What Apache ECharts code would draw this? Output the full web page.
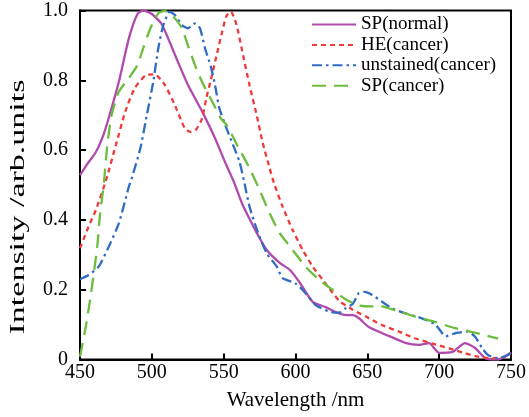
<!DOCTYPE html>
<html><head><meta charset="utf-8">
<script src="https://cdn.jsdelivr.net/npm/echarts@6/dist/echarts.min.js"></script>
<style>html,body{margin:0;padding:0;background:#fff;}#c{width:529px;height:417px;}</style>
</head><body><div id="c"></div>
<script>
const seriesNames = ['SP(normal)', 'HE(cancer)', 'unstained(cancer)', 'SP(cancer)'];
const xTicks = [450, 500, 550, 600, 650, 700, 750];
const yTicks = [0, 0.2, 0.4, 0.6, 0.8, 1.0];
const xAxisName = 'Wavelength /nm';
const yAxisName = 'Intensity /arb.units';

const spNormal = [[450,0.528],[455,0.56],[461,0.594],[466,0.64],[470,0.692],[477,0.795],[484,0.92],[490,0.99],[494,1.0],[500,0.99],[507,0.96],[516,0.874],[525,0.788],[535,0.711],[544,0.634],[551,0.565],[557,0.51],[563,0.445],[570,0.387],[575,0.348],[580,0.314],[589,0.277],[596,0.257],[603,0.22],[612,0.165],[621,0.15],[628,0.136],[635,0.127],[640,0.127],[644,0.119],[651,0.093],[660,0.076],[667,0.064],[677,0.047],[686,0.042],[693,0.047],[700,0.019],[709,0.021],[718,0.047],[725,0.033],[732,0.004],[741,0],[750,0.02]];
const heCancer = [[450,0.319],[456,0.381],[461,0.428],[468,0.512],[475,0.615],[481.5,0.71],[488,0.777],[496,0.815],[502,0.817],[509,0.787],[516,0.729],[523,0.662],[527,0.652],[531,0.66],[535,0.691],[538,0.75],[541,0.8],[545,0.87],[549,0.94],[552,0.985],[555,0.997],[559,0.958],[563,0.882],[568,0.786],[573,0.70],[577,0.624],[582,0.548],[585,0.506],[591,0.438],[598,0.371],[605,0.314],[612,0.266],[619,0.228],[626,0.19],[631,0.166],[640,0.142],[649,0.123],[660,0.099],[672,0.08],[683,0.061],[695,0.046],[707,0.032],[718,0.018],[727,0.008],[737,0.003],[746,0.008],[750,0.015]];
const unstainedCancer = [[450,0.23],[456,0.242],[463,0.266],[470,0.323],[477,0.39],[484,0.495],[486,0.519],[492,0.605],[496.5,0.70],[501,0.796],[504.5,0.892],[508,0.958],[512.5,0.997],[516,0.987],[521,0.958],[525,0.949],[530,0.963],[533.5,0.949],[537,0.892],[541,0.84],[544,0.786],[547,0.72],[552,0.662],[556.5,0.615],[561,0.567],[564.5,0.505],[568,0.438],[574,0.362],[580,0.304],[587,0.266],[591,0.233],[600,0.218],[607,0.19],[614,0.156],[623.5,0.137],[630,0.134],[635,0.147],[640,0.16],[644,0.19],[648,0.194],[653.5,0.185],[660,0.166],[667,0.147],[676.5,0.132],[688,0.118],[697.5,0.1],[704.5,0.067],[712,0.076],[720,0.08],[725,0.065],[730,0.032],[734,0.013],[741,0.003],[748,0.013],[750,0.02]];
const spCancer = [[450,0.008],[454,0.094],[457,0.17],[459.6,0.247],[462,0.323],[464,0.419],[466.5,0.5],[469,0.615],[472,0.70],[477,0.767],[484,0.806],[490,0.844],[494,0.892],[499,0.949],[504.5,0.992],[509,0.999],[515,0.982],[521,0.949],[525,0.901],[530,0.844],[535,0.795],[542,0.739],[548,0.691],[552,0.672],[560,0.61],[568,0.548],[574,0.495],[582,0.419],[589,0.362],[598,0.314],[607,0.266],[616.5,0.228],[626,0.199],[634,0.175],[644,0.155],[653,0.152],[658,0.154],[670,0.14],[683.5,0.123],[697,0.108],[711,0.09],[727,0.075],[741,0.06]];

const FONT = '"Liberation Serif", "Times New Roman", serif';
const chart = echarts.init(document.getElementById('c'), null, {renderer: 'canvas'});
const mk = (name, data, color, type, width) => ({
  name, type: 'line', data, symbol: 'none', showSymbol: false, smooth: 0.2,
  lineStyle: {color, width, type}, itemStyle: {color}, z: 3
});
chart.setOption({
  animation: false,
  backgroundColor: '#fff',
  grid: {left: 80, right: 16, top: 10.5, bottom: 57.5, show: true, borderColor: '#000', borderWidth: 2, backgroundColor: 'transparent'},
  legend: {
    orient: 'vertical', left: 311, top: 15, padding: 0, itemWidth: 44, itemHeight: 14, itemGap: 1.4,
    itemStyle: {opacity: 0},
    textStyle: {fontFamily: FONT, fontSize: 19, color: '#000'},
    data: seriesNames
  },
  xAxis: {
    type: 'value', min: xTicks[0], max: xTicks[xTicks.length-1], interval: 50,
    name: xAxisName, nameLocation: 'middle', nameGap: 30,
    nameTextStyle: {fontFamily: FONT, fontSize: 21, color: '#000'},
    axisLine: {show: true, lineStyle: {color: '#000', width: 2}},
    axisTick: {show: true, inside: true, length: 6, lineStyle: {color: '#000', width: 2}},
    axisLabel: {fontFamily: FONT, fontSize: 20, color: '#000', margin: 3},
    splitLine: {show: false}
  },
  yAxis: {
    type: 'value', min: yTicks[0], max: yTicks[yTicks.length-1], interval: 0.2,
    axisLine: {show: true, lineStyle: {color: '#000', width: 2}},
    axisTick: {show: true, inside: true, length: 6, lineStyle: {color: '#000', width: 2}},
    axisLabel: {fontFamily: FONT, fontSize: 20, color: '#000', margin: 12,
      formatter: v => v === 0 ? '0' : v.toFixed(1)},
    splitLine: {show: false}
  },
  graphic: [{
    type: 'text', x: 19, y: 207, rotation: Math.PI/2, scaleX: 1.7,
    style: {text: yAxisName, font: '20px ' + FONT, fill: '#000', align: 'center', verticalAlign: 'middle'}
  }],
  series: [
    mk(seriesNames[0], spNormal, '#b04aae', 'solid', 2.3),
    mk(seriesNames[1], heCancer, '#ef3a3a', [5,4], 2.3),
    mk(seriesNames[2], unstainedCancer, '#2f6cc2', [10,4,2.5,4], 2.3),
    mk(seriesNames[3], spCancer, '#6cbd3e', [14,8], 2.3)
  ]
});
</script></body></html>
